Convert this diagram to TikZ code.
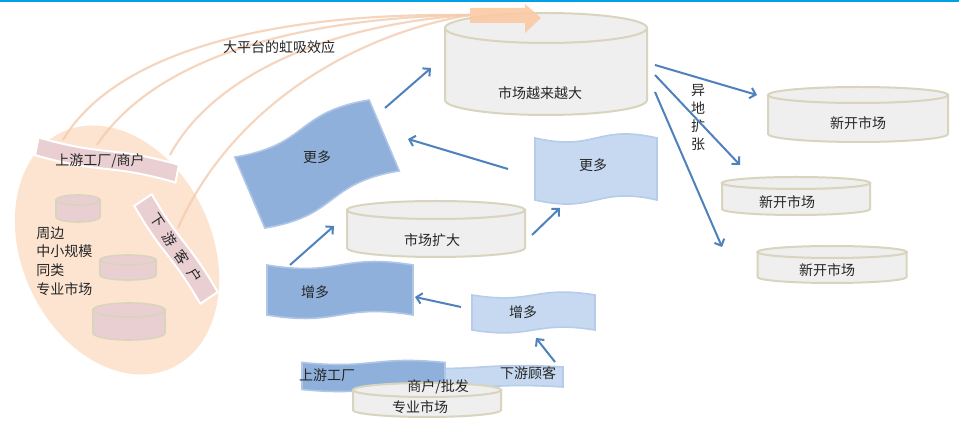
\documentclass[tikz,border=0pt]{standalone}
\usepackage{fontspec}
\setmainfont{Noto Sans CJK SC}
\usetikzlibrary{arrows.meta}
\definecolor{topblue}{HTML}{00A0E9}
\definecolor{cylfill}{HTML}{EFEFEF}
\definecolor{cyldraw}{HTML}{D8D4BE}
\definecolor{pinkfill}{HTML}{EACFD2}
\definecolor{peach}{HTML}{FCE4D0}
\definecolor{peachline}{HTML}{F4CBAE}
\definecolor{orangearrow}{HTML}{FBC9A4}
\definecolor{darkblue}{HTML}{8FB0DA}
\definecolor{darkblueline}{HTML}{AFC6E6}
\definecolor{lightblue}{HTML}{C6D9F1}
\definecolor{lightblueline}{HTML}{B6CCEA}
\definecolor{arrowblue}{HTML}{4F81BD}
\newcommand\cylshape[6]{%
  \path[#6] ({#1-#4},#2) -- ({#1-#4},#3)
    .. controls ({#1-#4},{#3+0.5523*#5}) and ({#1-0.5523*#4},{#3+#5}) .. (#1,{#3+#5})
    .. controls ({#1+0.5523*#4},{#3+#5}) and ({#1+#4},{#3+0.5523*#5}) .. ({#1+#4},#3)
    -- ({#1+#4},#2) -- cycle;
  \path[#6] (#1,#2) ellipse ({#4} and {#5});}
\newcommand\waveshape[7]{%
  \begin{scope}[shift={(#1,#2)},rotate=#6]
  \path[#7] ({-(#3)/2},{-(#4)/2})
    .. controls (0,{-(#4)/2+2*(#5)}) and (0,{-(#4)/2-2*(#5)}) .. ({(#3)/2},{-(#4)/2})
    -- ({(#3)/2},{(#4)/2})
    .. controls (0,{(#4)/2-2*(#5)}) and (0,{(#4)/2+2*(#5)}) .. ({-(#3)/2},{(#4)/2}) -- cycle;
  \end{scope}}
\tikzset{
  cyl/.style={fill=cylfill,draw=cyldraw,line width=1.5pt},
  smallcyl/.style={fill=pinkfill,draw=cyldraw,line width=1.2pt},
  darkwave/.style={fill=darkblue,draw=darkblueline,line width=1.2pt},
  lightwave/.style={fill=lightblue,draw=lightblueline,line width=1.2pt},
  strip/.style={fill=pinkfill,draw=white,line width=1.5pt},
  lbl/.style={inner sep=0pt,font=\fontsize{10.5}{13}\selectfont,text=black!85},
  arr/.style={draw=arrowblue,line width=1.5pt,-{Straight Barb[length=4pt,width=8pt]}},
  suction/.style={draw=peachline,line width=1.6pt,opacity=0.8}
}
\begin{document}
\begin{tikzpicture}[x=0.75pt,y=-0.75pt]
\useasboundingbox (0,0) rectangle (959,423);
\fill[white] (0,0) rectangle (959,423);
\fill[topblue] (0,0) rectangle (959,2.5);

% left ellipse
\fill[peach,rotate around={-65:(117,250)}] (117,250) ellipse (130 and 95);

% suction curves
\coordinate (suckend) at (470,15);
\coordinate (s1) at (63,140);
\coordinate (s2) at (97,145);
\coordinate (s3) at (170,155);
\coordinate (s4) at (178,228);
\draw[suction] (s1) .. controls (110,60) and (250,12) .. (suckend);
\draw[suction] (s2) .. controls (150,65) and (280,18) .. (suckend);
\draw[suction] (s3) .. controls (210,80) and (320,25) .. (suckend);
\draw[suction] (s4) .. controls (230,110) and (350,35) .. (suckend);

% strips in ellipse
\waveshape{107}{160}{143}{18}{3}{-11}{strip}
\node[lbl] (upfactory) at (100,161) {上游工厂/商户};
\waveshape{176}{249}{118}{21}{2}{-56}{strip}
\node[lbl,rotate=-56] (downcust) at (176,248) {下\hspace{6pt}游\hspace{6pt}客\hspace{6pt}户};

% small cylinders
\cylshape{78}{200}{217}{22}{5}{smallcyl}
\cylshape{128}{260}{275}{28}{5}{smallcyl}
\cylshape{129}{310}{333}{36}{7}{smallcyl}
\node[lbl,anchor=west,align=left,font=\fontsize{10.5}{14}\selectfont] (periph) at (36,261) {周边\\中小规模\\同类\\专业市场};

\node[lbl] (siphon) at (279,47) {大平台的虹吸效应};

% big cylinder
\cylshape{546}{28}{100}{101}{15}{cyl}
\node[lbl] (bigger) at (540,93) {市场越来越大};
\fill[orangearrow,opacity=0.9] (470,8) -- (525,8) -- (525,4) -- (541,18) -- (525,33) -- (525,23) -- (470,23) -- cycle;

% market expansion
\cylshape{436}{210}{248}{89}{9}{cyl}
\node[lbl] (expand) at (432,240) {市场扩大};

% new markets
\cylshape{858}{95}{134}{90}{8}{cyl}
\node[lbl] (new1) at (858,123) {新开市场};
\cylshape{796}{183}{209}{74}{6}{cyl}
\node[lbl] (new2) at (787,202) {新开市场};
\cylshape{832}{252}{277}{74.5}{6}{cyl}
\node[lbl] (new3) at (827,270) {新开市场};
\node[lbl,align=center,font=\fontsize{10.5}{13.5}\selectfont] (remote) at (698,118) {异\\地\\扩\\张};

% waves
\waveshape{317}{164}{146}{77}{9}{23}{darkwave}
\node[lbl] (more1) at (317,157) {更多};
\waveshape{596}{169}{122}{62}{7}{0}{lightwave}
\node[lbl] (more2) at (593,165) {更多};
\waveshape{340}{290}{146}{50}{6}{0}{darkwave}
\node[lbl] (inc1) at (315,292) {增多};
\waveshape{533.5}{312.5}{123}{35}{5}{0}{lightwave}
\node[lbl] (inc2) at (523,312) {增多};

% bottom group
\waveshape{482}{377}{162}{20}{2.5}{0}{lightwave}
\waveshape{373.5}{376}{143}{27}{3.5}{0}{darkwave}
\node[lbl] (upf) at (327,375) {上游工厂};
\node[lbl] (downc) at (528,373) {下游顾客};
\cylshape{427}{390}{410}{74}{7}{cyl}
\node[lbl] (merch) at (438,387) {商户/批发};
\node[lbl] (spec) at (420,407) {专业市场};

% arrows
\coordinate (a1s) at (655,65); \coordinate (a1e) at (757,95);
\coordinate (a2s) at (655,75); \coordinate (a2e) at (740,165);
\coordinate (a3s) at (655,92); \coordinate (a3e) at (722,247);
\draw[arr] (a1s) -- (a1e);
\draw[arr] (a2s) -- (a2e);
\draw[arr] (a3s) -- (a3e);
\coordinate (b1s) at (290,265); \coordinate (b1e) at (334,226);
\coordinate (b2s) at (385,108); \coordinate (b2e) at (431,68);
\coordinate (b3s) at (508,169); \coordinate (b3e) at (408,139);
\coordinate (b4s) at (532,235); \coordinate (b4e) at (560,208);
\coordinate (b5s) at (461,307); \coordinate (b5e) at (415,297);
\coordinate (b6s) at (555,362); \coordinate (b6e) at (536,338);
\draw[arr] (b1s) -- (b1e);
\draw[arr] (b2s) -- (b2e);
\draw[arr] (b3s) -- (b3e);
\draw[arr] (b4s) -- (b4e);
\draw[arr] (b5s) -- (b5e);
\draw[arr] (b6s) -- (b6e);
\end{tikzpicture}
\end{document}
